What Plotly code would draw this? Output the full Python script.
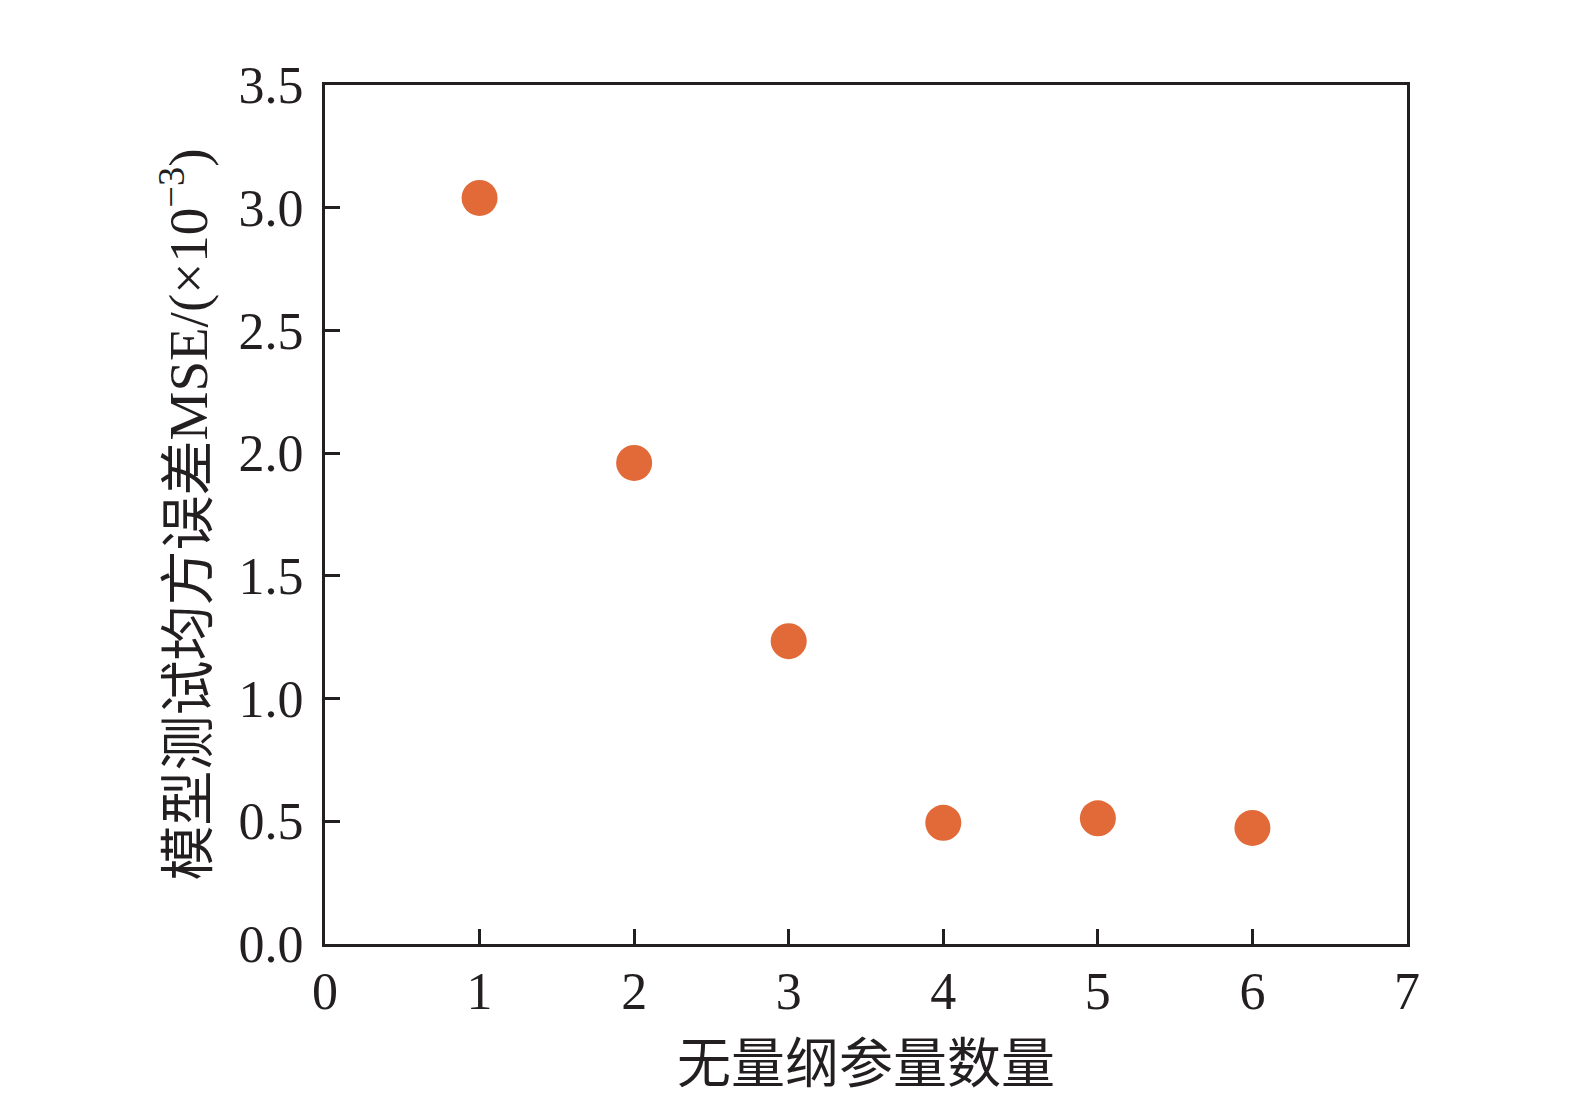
import plotly.graph_objects as go

n_params = [1, 2, 3, 4, 5, 6]
mse_values = [3.04, 1.96, 1.234, 0.494, 0.512, 0.473]
x_ticks = [0, 1, 2, 3, 4, 5, 6, 7]
y_ticks = [0.0, 0.5, 1.0, 1.5, 2.0, 2.5, 3.0, 3.5]
y_tick_labels = ["0.0", "0.5", "1.0", "1.5", "2.0", "2.5", "3.0", "3.5"]

FONT = "Liberation Serif, Times New Roman, Noto Sans CJK SC, serif"

fig = go.Figure()
fig.add_trace(go.Scatter(
    x=n_params, y=mse_values, mode="markers",
    marker=dict(size=36, color="#E26A38", line=dict(width=0)),
    showlegend=False,
))

fig.update_layout(
    width=1575, height=1093,
    margin=dict(l=317, r=176, t=77, b=157),
    plot_bgcolor="white", paper_bgcolor="white",
    font=dict(family=FONT, size=52, color="#231f20"),
)
fig.update_xaxes(
    range=[0, 7], tickvals=x_ticks, ticks="inside", ticklen=15, tickwidth=3,
    tickcolor="#231f20", showline=True, linecolor="#231f20", linewidth=3,
    mirror=True, showgrid=False, zeroline=False,
    tickfont=dict(family=FONT, size=52),
    ticklabelstandoff=0,
    title=dict(text="无量纲参量数量", font=dict(family="Noto Sans CJK SC", size=54), standoff=0),
)
fig.update_yaxes(
    range=[0, 3.5], tickvals=y_ticks, ticktext=y_tick_labels, ticks="inside",
    ticklen=15, tickwidth=3, tickcolor="#231f20", showline=True,
    linecolor="#231f20", linewidth=3, mirror=True, showgrid=False, zeroline=False,
    tickfont=dict(family=FONT, size=52),
    ticklabelstandoff=8,
    title=dict(text="模型测试均方误差MSE/(×10<sup>−3</sup>)",
               font=dict(family="Liberation Serif, Noto Sans CJK SC", size=55), standoff=14),
)

fig.write_html("out.html")
